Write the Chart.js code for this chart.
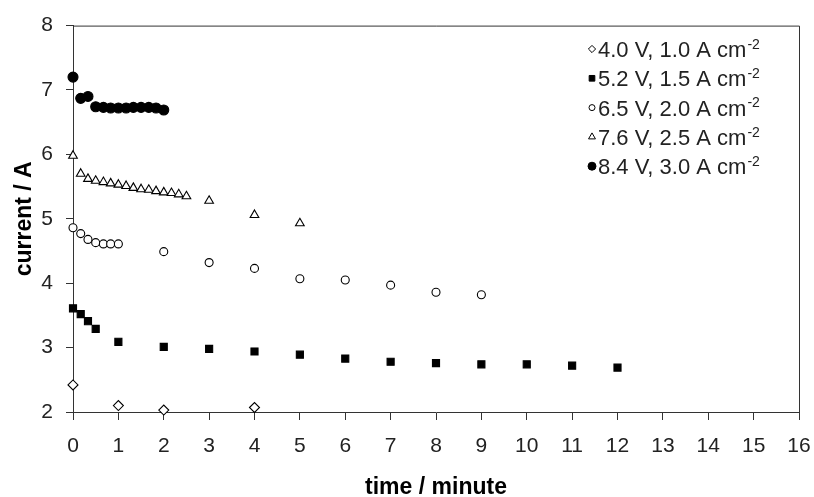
<!DOCTYPE html>
<html><head><meta charset="utf-8">
<script src="https://cdn.jsdelivr.net/npm/chart.js@4.4.1/dist/chart.umd.min.js"></script>
<style>html,body{margin:0;padding:0;background:#fff;}canvas{display:block;}</style>
</head><body>
<canvas id="c" width="814" height="497"></canvas>
<script>
// ---- data ----
const seriesLabels = ['4.0 V, 1.0 A cm', '5.2 V, 1.5 A cm', '6.5 V, 2.0 A cm', '7.6 V, 2.5 A cm', '8.4 V, 3.0 A cm'];
const labelExponent = '-2';
const xTitle = 'time / minute';
const yTitle = 'current / A';
const xTicks = [0, 1, 2, 3, 4, 5, 6, 7, 8, 9, 10, 11, 12, 13, 14, 15, 16];
const yTicks = [2, 3, 4, 5, 6, 7, 8];

const time40 = [0, 1, 2, 4];
const curr40 = [2.42, 2.10, 2.03, 2.07];

const time52 = [0, 0.17, 0.33, 0.5, 1, 2, 3, 4, 5, 6, 7, 8, 9, 10, 11, 12];
const curr52 = [3.61, 3.52, 3.41, 3.29, 3.09, 3.01, 2.98, 2.94, 2.89, 2.83, 2.78, 2.76, 2.74, 2.74, 2.72, 2.69];

const time65 = [0, 0.17, 0.33, 0.5, 0.67, 0.83, 1, 2, 3, 4, 5, 6, 7, 8, 9];
const curr65 = [4.86, 4.77, 4.68, 4.63, 4.61, 4.61, 4.61, 4.49, 4.32, 4.23, 4.07, 4.05, 3.97, 3.86, 3.82];

const time76 = [0, 0.17, 0.33, 0.5, 0.67, 0.83, 1, 1.17, 1.33, 1.5, 1.67, 1.83, 2, 2.17, 2.33, 2.5, 3, 4, 5];
const curr76 = [5.98, 5.70, 5.62, 5.59, 5.57, 5.55, 5.53, 5.51, 5.48, 5.46, 5.45, 5.43, 5.41, 5.40, 5.38, 5.35, 5.28, 5.06, 4.93];

const time84 = [0, 0.17, 0.33, 0.5, 0.67, 0.83, 1, 1.17, 1.33, 1.5, 1.67, 1.83, 2];
const curr84 = [7.20, 6.87, 6.90, 6.74, 6.73, 6.72, 6.72, 6.72, 6.73, 6.73, 6.73, 6.72, 6.69];

// ---- build ----
const pts = (xs, ys) => xs.map((x, i) => ({x: x, y: ys[i]}));
const FONT = '"Liberation Sans", Arial, sans-serif';
const INK = '#222';

const styles = [
  {pointStyle: 'rectRot', radius: 5, bg: '#fff', lr: 3.6},
  {pointStyle: 'rect', radius: 5, bg: '#000', lr: 4},
  {pointStyle: 'circle', radius: 4, bg: '#fff', lr: 3},
  {pointStyle: 'triangle', radius: 5, bg: '#fff', lr: 4},
  {pointStyle: 'circle', radius: 5, bg: '#000', lr: 4}
];
const seriesData = [pts(time40, curr40), pts(time52, curr52), pts(time65, curr65), pts(time76, curr76), pts(time84, curr84)];

const datasets = seriesData.map((d, i) => ({
  label: seriesLabels[i],
  data: d,
  showLine: false,
  clip: false,
  pointStyle: styles[i].pointStyle,
  pointRadius: styles[i].radius,
  pointHoverRadius: styles[i].radius,
  pointBackgroundColor: styles[i].bg,
  pointBorderColor: '#000',
  pointBorderWidth: 1.1
}));

const framePlugin = {
  id: 'frame',
  beforeDatasetsDraw(chart) {
    const {ctx, chartArea: a} = chart;
    ctx.save();
    ctx.strokeStyle = '#333';
    ctx.lineWidth = 1;
    ctx.beginPath();
    ctx.moveTo(a.left, a.top + 0.5);
    ctx.lineTo(a.right + 0.5, a.top + 0.5);
    ctx.lineTo(a.right + 0.5, a.bottom);
    ctx.stroke();
    ctx.restore();
  }
};

const legendPlugin = {
  id: 'customLegend',
  afterDraw(chart) {
    const ctx = chart.ctx;
    const x0 = 592, tx = 598, y0 = 51, dy = 29.3;
    ctx.save();
    chart.data.datasets.forEach((ds, i) => {
      const y = y0 + i * dy;
      const st = styles[i];
      const opts = {pointStyle: st.pointStyle, radius: st.lr, borderWidth: 1, rotation: 0};
      ctx.fillStyle = st.bg;
      ctx.strokeStyle = '#000';
      ctx.lineWidth = 1;
      Chart.helpers.drawPoint(ctx, opts, x0, y - 2);
      ctx.fillStyle = INK;
      ctx.font = '22px ' + FONT;
      ctx.textBaseline = 'middle';
      ctx.textAlign = 'left';
      ctx.fillText(ds.label, tx, y);
      const w = ctx.measureText(ds.label).width;
      ctx.font = '14px ' + FONT;
      ctx.fillText(labelExponent, tx + w + 1, y - 6);
    });
    ctx.restore();
  }
};

new Chart(document.getElementById('c'), {
  type: 'scatter',
  data: {datasets: datasets},
  options: {
    responsive: false,
    animation: false,
    events: [],
    layout: {padding: {left: 0, top: 23, right: 15, bottom: 0}},
    plugins: {legend: {display: false}, tooltip: {enabled: false}},
    scales: {
      x: {
        type: 'linear',
        min: xTicks[0], max: xTicks[xTicks.length - 1],
        afterBuildTicks: s => { s.ticks = xTicks.map(v => ({value: v})); },
        afterFit: s => { s.height = 85; s.paddingLeft = 0; s.paddingRight = 0; },
        border: {display: true, color: '#333', width: 1},
        grid: {display: true, drawOnChartArea: false, drawTicks: true, tickLength: 8, color: '#333', lineWidth: 1},
        ticks: {color: INK, font: {family: FONT, size: 21}, padding: 14, maxRotation: 0, autoSkip: false},
        title: {display: true, text: xTitle, color: '#000', font: {family: FONT, size: 23, weight: 'bold', lineHeight: 0.78}, padding: {top: 0, bottom: 0}}
      },
      y: {
        type: 'linear',
        min: yTicks[0], max: yTicks[yTicks.length - 1],
        afterBuildTicks: s => { s.ticks = yTicks.map(v => ({value: v})); },
        afterFit: s => { s.width = 73; },
        border: {display: true, color: '#333', width: 1},
        grid: {display: true, drawOnChartArea: false, drawTicks: true, tickLength: 7, color: '#333', lineWidth: 1},
        ticks: {color: INK, font: {family: FONT, size: 21}, padding: 13, autoSkip: false},
        title: {display: true, text: yTitle, color: '#000', font: {family: FONT, size: 23, weight: 'bold', lineHeight: 1.2}, padding: {top: 11, bottom: 0}}
      }
    }
  },
  plugins: [framePlugin, legendPlugin]
});
</script>
</body></html>
